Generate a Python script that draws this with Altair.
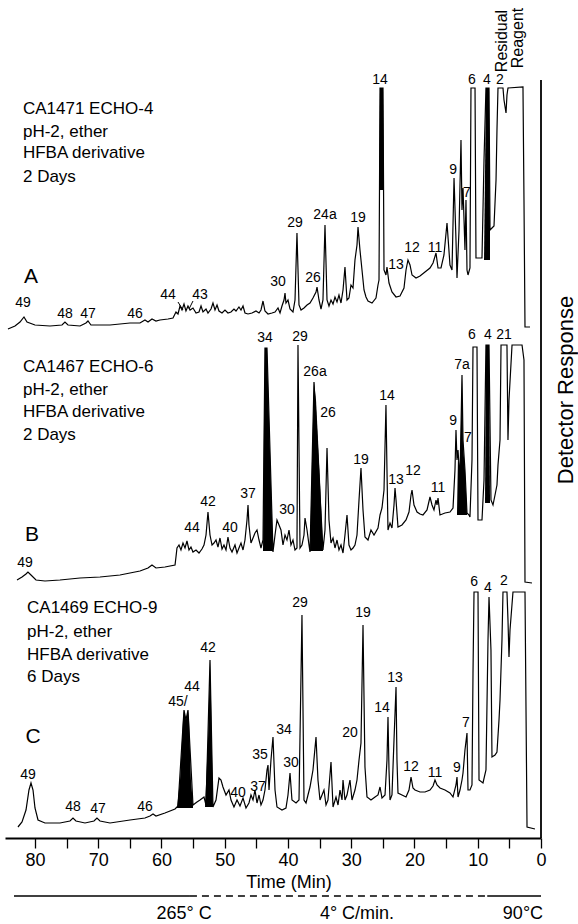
import altair as alt
import pandas as pd

FONT = "Liberation Sans"

# ---------------- chromatogram traces: (time in min, detector response) ----------------
trace_a = [
    (84.27, 509), (83.16, 512), (82.37, 516), (81.74, 521), (81.26, 516), (80.00, 513), (77.63, 512),
    (75.73, 513), (75.26, 516), (74.78, 513), (72.88, 512), (71.94, 515), (71.62, 517), (71.15, 513),
    (68.14, 513), (64.98, 515), (63.40, 515), (62.61, 518), (62.13, 516), (61.50, 519), (60.87, 517),
    (60.24, 518), (58.97, 519), (58.18, 520), (57.71, 526), (57.39, 524), (57.07, 532), (56.76, 528),
    (56.44, 534), (56.13, 527), (55.81, 532), (55.49, 528), (55.02, 530), (54.54, 525), (54.07, 526),
    (53.75, 532), (53.44, 526), (52.96, 529), (52.65, 525), (52.17, 529), (51.86, 535), (51.54, 528),
    (51.22, 533), (50.91, 527), (50.43, 525), (49.96, 528), (49.49, 525), (49.01, 526), (48.54, 529),
    (48.22, 527), (47.75, 531), (47.43, 528), (47.11, 532), (46.80, 525), (46.32, 524), (45.69, 525),
    (45.06, 527), (44.58, 525), (44.27, 528), (43.95, 537), (43.64, 527), (43.16, 524), (42.53, 525),
    (42.05, 526), (41.58, 530), (41.26, 525), (40.95, 532), (40.63, 538), (40.47, 545), (40.32, 535),
    (40.00, 538), (39.68, 529), (39.21, 526), (38.89, 538), (38.58, 605), (38.26, 533), (37.94, 528),
    (37.47, 530), (36.99, 533), (36.52, 535), (36.05, 540), (35.57, 546), (35.41, 551), (35.10, 538),
    (34.78, 529), (34.47, 538), (34.15, 613), (33.83, 538), (33.52, 532), (33.20, 538), (32.88, 534),
    (32.57, 541), (32.25, 536), (31.94, 543), (31.62, 535), (31.30, 548), (30.99, 571), (30.67, 538),
    (30.36, 540), (30.04, 553), (29.72, 550), (29.41, 578), (29.09, 593), (28.93, 611), (28.62, 588),
    (28.30, 568), (27.98, 548), (27.67, 541), (27.35, 537), (26.72, 535), (26.09, 540), (25.77, 553),
    (25.61, 558), (25.45, 750), (24.98, 750), (24.82, 568), (24.51, 563), (24.35, 571), (24.03, 555),
    (23.56, 546), (22.92, 541), (22.29, 542), (21.66, 550), (21.34, 568), (21.03, 578), (20.71, 573),
    (20.39, 563), (19.76, 560), (19.13, 562), (18.34, 566), (17.55, 570), (17.07, 575), (16.60, 585),
    (16.28, 570), (15.81, 570), (15.34, 583), (14.86, 615), (14.39, 573), (14.07, 568), (13.75, 660),
    (13.44, 598), (13.28, 560), (12.96, 608), (12.65, 698), (12.49, 628), (12.33, 650), (12.02, 588),
    (11.86, 638), (11.70, 568), (11.54, 563), (11.23, 570), (11.07, 750), (10.43, 750), (10.28, 580),
    (9.33, 580), (9.01, 678), (8.70, 750), (8.22, 750), (8.06, 608), (7.75, 610), (7.43, 612),
    (7.11, 658), (6.96, 708), (6.80, 750), (6.01, 750), (5.85, 738), (5.53, 725), (5.38, 743),
    (5.22, 750), (2.85, 751), (2.69, 638), (2.53, 511), (1.74, 511),
]

trace_b = [
    (82.84, 258), (82.05, 261), (81.42, 264), (81.11, 266), (80.63, 263), (79.84, 258), (78.42, 257),
    (76.05, 258), (72.88, 260), (69.72, 261), (66.56, 263), (63.40, 267), (62.13, 270), (61.50, 273),
    (60.87, 270), (59.45, 271), (57.86, 273), (57.71, 281), (57.55, 290), (57.23, 293), (56.92, 288),
    (56.60, 295), (56.28, 290), (55.97, 297), (55.65, 288), (55.34, 291), (55.02, 286), (54.54, 288),
    (54.07, 285), (53.60, 289), (53.28, 293), (52.96, 303), (52.65, 326), (52.33, 303), (52.01, 293),
    (51.70, 295), (51.38, 298), (51.07, 291), (50.75, 300), (50.43, 289), (50.12, 293), (49.80, 288),
    (49.49, 301), (49.17, 290), (48.85, 286), (48.38, 293), (48.06, 285), (47.75, 290), (47.43, 295),
    (47.11, 288), (46.80, 298), (46.48, 318), (46.32, 333), (46.17, 313), (45.85, 295), (45.53, 300),
    (45.22, 305), (44.90, 308), (44.58, 298), (44.27, 290), (43.95, 298), (43.64, 490), (43.32, 490),
    (42.37, 286), (42.05, 303), (41.74, 318), (41.42, 313), (41.11, 308), (40.79, 293), (40.47, 303),
    (40.16, 298), (39.84, 308), (39.53, 293), (39.21, 298), (38.89, 288), (38.58, 290), (38.42, 493),
    (38.10, 290), (37.79, 293), (37.47, 303), (37.31, 320), (36.99, 308), (36.68, 293), (36.52, 286),
    (35.89, 456), (34.47, 288), (34.15, 308), (33.83, 390), (33.52, 318), (33.20, 295), (32.88, 300),
    (32.57, 290), (32.25, 298), (31.94, 288), (31.62, 293), (31.30, 285), (30.99, 303), (30.67, 323),
    (30.36, 293), (30.04, 288), (29.72, 290), (29.41, 293), (29.09, 303), (28.77, 338), (28.46, 370),
    (28.14, 328), (27.83, 301), (27.35, 298), (26.88, 308), (26.40, 303), (25.77, 310), (25.45, 323),
    (25.14, 330), (24.82, 348), (24.51, 433), (24.35, 368), (24.19, 308), (23.87, 315), (23.56, 310),
    (23.24, 333), (23.08, 350), (22.92, 338), (22.61, 311), (21.98, 313), (21.34, 318), (20.87, 326),
    (20.55, 343), (20.39, 348), (20.08, 333), (19.60, 326), (19.13, 324), (18.66, 323), (18.02, 328),
    (17.55, 341), (17.23, 333), (16.92, 328), (16.60, 338), (16.44, 333), (16.28, 340), (15.97, 323),
    (15.18, 325), (14.39, 326), (13.91, 330), (13.60, 368), (13.44, 408), (13.28, 378), (13.12, 388),
    (12.81, 358), (12.49, 463), (12.33, 398), (12.02, 368), (11.70, 325), (11.38, 323), (11.23, 321),
    (10.91, 378), (10.75, 491), (10.12, 491), (9.96, 318), (9.33, 318), (9.01, 358), (8.70, 493),
    (8.22, 493), (7.91, 338), (7.59, 333), (7.27, 343), (6.96, 353), (6.80, 373), (6.48, 398),
    (6.32, 493), (5.38, 493), (5.22, 398), (5.06, 438), (4.58, 493), (3.00, 493), (2.69, 478),
    (2.53, 256), (1.42, 255),
]

trace_c = [
    (82.69, 11), (82.05, 16), (81.42, 28), (80.95, 48), (80.63, 55), (80.31, 48), (80.00, 30),
    (79.52, 18), (78.42, 15), (76.05, 15), (74.47, 17), (73.99, 20), (73.52, 17), (72.09, 15),
    (70.67, 17), (70.20, 20), (69.72, 17), (68.14, 15), (64.98, 18), (62.61, 20), (61.82, 22),
    (61.34, 24), (60.87, 22), (59.45, 25), (57.86, 29), (57.39, 32), (56.44, 128), (56.13, 118),
    (55.81, 128), (55.02, 33), (54.39, 36), (53.91, 38), (53.28, 41), (52.96, 33), (52.33, 178),
    (51.86, 31), (51.38, 38), (50.91, 60), (50.59, 58), (50.28, 51), (49.80, 43), (49.33, 48),
    (49.01, 38), (48.54, 31), (48.06, 38), (47.59, 32), (47.11, 40), (46.64, 30), (46.17, 35),
    (45.85, 43), (45.53, 38), (45.22, 48), (44.90, 35), (44.58, 43), (44.27, 33), (43.95, 38),
    (43.64, 48), (43.32, 68), (43.16, 73), (43.00, 48), (42.69, 78), (42.37, 101), (42.05, 48),
    (41.74, 31), (40.95, 28), (40.32, 30), (40.00, 43), (39.68, 65), (39.37, 38), (38.73, 35),
    (38.26, 38), (37.79, 223), (37.47, 38), (37.15, 35), (36.84, 43), (36.52, 51), (36.05, 68),
    (35.57, 101), (35.26, 58), (34.94, 38), (34.62, 43), (34.31, 48), (33.99, 33), (33.68, 38),
    (33.20, 76), (32.88, 31), (32.41, 41), (32.09, 33), (31.78, 48), (31.46, 38), (31.30, 58),
    (30.99, 38), (30.67, 43), (30.36, 53), (30.20, 58), (29.88, 38), (29.41, 48), (29.09, 58),
    (28.77, 78), (28.46, 95), (28.14, 213), (27.83, 71), (27.51, 41), (26.88, 38), (26.24, 41),
    (25.77, 43), (25.45, 51), (25.14, 40), (24.66, 43), (24.35, 78), (24.19, 121), (24.03, 68),
    (23.87, 38), (23.56, 43), (23.24, 98), (22.92, 151), (22.77, 78), (22.61, 45), (21.98, 43),
    (21.34, 41), (20.87, 48), (20.55, 61), (20.24, 50), (19.92, 48), (19.13, 46), (18.34, 46),
    (17.55, 48), (17.07, 52), (16.76, 58), (16.44, 53), (15.97, 50), (15.18, 48), (14.39, 45),
    (13.91, 41), (13.44, 53), (13.28, 61), (13.12, 41), (12.81, 48), (12.49, 58), (12.33, 65),
    (12.02, 88), (11.70, 105), (11.54, 48), (11.23, 48), (10.91, 53), (10.75, 165), (10.59, 246),
    (9.96, 246), (9.80, 58), (9.17, 55), (8.70, 68), (8.38, 198), (8.22, 241), (7.91, 188),
    (7.75, 81), (7.27, 83), (6.96, 86), (6.64, 118), (6.48, 138), (6.17, 198), (6.01, 246),
    (5.38, 246), (5.22, 218), (5.06, 181), (4.90, 208), (4.43, 246), (2.53, 246), (2.21, 11),
    (0.95, 9),
]

# ---------------- blackened peaks: (time, top, base) ----------------
filled_peaks = {
    "A14": [(25.61, 648, 648), (25.45, 750, 648), (24.98, 750, 648), (24.82, 648, 648)],
    "A4": [(9.01, 578, 578), (8.70, 750, 578), (8.22, 750, 578), (8.06, 608, 578)],
    "B34": [(43.95, 288, 287), (43.79, 418, 287), (43.64, 490, 287), (43.32, 490, 287),
            (42.85, 388, 287), (42.37, 287, 287)],
    "B26a": [(36.52, 287, 287), (36.20, 378, 287), (35.89, 456, 287), (35.57, 438, 287),
             (34.94, 358, 287), (34.47, 288, 287)],
    "B7a": [(13.28, 325, 323), (13.12, 383, 323), (12.81, 368, 323), (12.49, 460, 323),
            (12.33, 393, 323), (12.02, 368, 323), (11.70, 325, 323)],
    "B4": [(8.85, 338, 335), (8.70, 493, 335), (8.22, 493, 335), (8.06, 338, 335)],
    "C45_44": [(57.55, 30, 30), (57.07, 58, 30), (56.60, 118, 30), (56.44, 128, 30),
               (56.13, 118, 30), (55.81, 128, 30), (55.65, 118, 30), (55.34, 58, 30),
               (55.02, 33, 30)],
    "C42": [(53.12, 31, 31), (52.65, 98, 31), (52.33, 178, 31), (52.17, 138, 31), (51.86, 31, 31)],
}

# ---------------- peak numbers: (label, time, response) ----------------
peak_labels = [
    # trace A
    ("49", 81.90, 535), ("48", 75.26, 524), ("47", 71.62, 524), ("46", 64.19, 524),
    ("44", 58.97, 543), ("43", 53.91, 543), ("30", 41.58, 556), ("29", 38.89, 615),
    ("26", 36.05, 560), ("24a", 34.15, 623), ("19", 28.93, 620), ("14", 25.45, 758),
    ("13", 22.92, 573), ("12", 20.39, 590), ("11", 16.76, 590), ("9", 13.91, 668),
    ("7", 11.70, 645), ("6", 10.91, 758), ("4", 8.54, 758), ("2", 6.48, 758),
    # trace B
    ("49", 81.58, 275), ("44", 55.18, 310), ("42", 52.65, 336), ("40", 49.17, 310),
    ("37", 46.32, 344), ("34", 43.64, 500), ("30", 40.16, 328), ("29", 38.10, 501),
    ("26a", 35.73, 466), ("26", 33.68, 425), ("19", 28.46, 378), ("14", 24.35, 442),
    ("13", 22.92, 358), ("12", 20.24, 367), ("11", 16.28, 350), ("9", 13.91, 417),
    ("7a", 12.49, 473), ("7", 11.54, 400), ("6", 10.91, 503), ("4", 8.38, 503), ("21", 5.85, 503),
    # trace C
    ("49", 81.11, 63), ("48", 73.99, 31), ("47", 70.04, 29), ("46", 62.61, 31),
    ("45/", 57.39, 136), ("44", 55.18, 151), ("42", 52.65, 190), ("40", 47.90, 45),
    ("37", 44.74, 51), ("35", 44.43, 83), ("34", 40.63, 108), ("30", 39.53, 75),
    ("29", 38.10, 235), ("20", 30.20, 105), ("19", 28.14, 225), ("14", 25.14, 130),
    ("13", 23.08, 160), ("12", 20.55, 71), ("11", 16.76, 65), ("9", 13.28, 70),
    ("7", 11.86, 115), ("6", 10.59, 256), ("4", 8.38, 250), ("2", 5.85, 257),
]

# leader strokes from labels 44 and 43 (trace A): (t, t2, r, r2)
leaders = [(57.39, 56.60, 536, 528), (55.02, 55.65, 537, 529)]

# sample descriptions: (text, time, response)
sample_notes = [
    ("CA1471 ECHO-4", 81.90, 729), ("pH-2, ether", 81.90, 706),
    ("HFBA derivative", 81.90, 685), ("2 Days", 81.90, 661),
    ("CA1467 ECHO-6", 81.90, 471), ("pH-2, ether", 81.90, 448),
    ("HFBA derivative", 81.90, 426), ("2 Days", 81.90, 403),
    ("CA1469 ECHO-9", 81.26, 230), ("pH-2, ether", 81.26, 206),
    ("HFBA derivative", 81.26, 183), ("6 Days", 81.26, 161),
]
trace_letters = [("A", 80.63, 561), ("B", 80.47, 303), ("C", 80.31, 101)]
reagent_notes = [("Residual", 6.17, 797), ("Reagent", 3.64, 800)]
response_title = [("Detector Response", -3.95, 448)]
bottom_notes = [("Time (Min)", 39.84, -45), ("265° C", 56.44, -76), ("4° C/min.", 29.09, -76), ("90°C", 2.85, -76)]
tick_values = list(range(0, 81, 5))

# temperature programme line: (t, t2, response)
temp_solid = [(83.32, 55.5, -58), (8.5, 0.0, -58)]
temp_dashed = [(55.5, 8.5, -58)]
frame_line = [(0.0, 0, 758)]

# ---------------- build tables ----------------
rows = []
for name, pts in [("A", trace_a), ("B", trace_b), ("C", trace_c)]:
    for i, (t, r) in enumerate(pts):
        rows.append({"trace": name, "i": i, "t": t, "r": r})
traces_df = pd.DataFrame(rows)

frows = []
for name, pts in filled_peaks.items():
    for t, top, base in pts:
        frows.append({"peak": name, "t": t, "r": top, "r2": base})
fill_df = pd.DataFrame(frows)

labels_df = pd.DataFrame(peak_labels, columns=["text", "t", "r"])
leaders_df = pd.DataFrame(leaders, columns=["t", "t2", "r", "r2"])
notes_df = pd.DataFrame(sample_notes, columns=["text", "t", "r"])
letters_df = pd.DataFrame(trace_letters, columns=["text", "t", "r"])
reagent_df = pd.DataFrame(reagent_notes, columns=["text", "t", "r"])
resp_df = pd.DataFrame(response_title, columns=["text", "t", "r"])
bottom_df = pd.DataFrame(bottom_notes, columns=["text", "t", "r"])
solid_df = pd.DataFrame(temp_solid, columns=["t", "t2", "r"])
dashed_df = pd.DataFrame(temp_dashed, columns=["t", "t2", "r"])
frame_df = pd.DataFrame(frame_line, columns=["t", "r", "r2"])

x_scale = alt.Scale(domain=[0, 84.74], reverse=True, nice=False, zero=False)
y_scale = alt.Scale(domain=[0, 838], nice=False, zero=False)

X = alt.X(
    "t:Q",
    scale=x_scale,
    axis=alt.Axis(
        values=tick_values,
        labelExpr="datum.value % 10 == 0 ? datum.label : ''",
        tickSize=10, tickColor="black", tickWidth=1.3,
        domainColor="black", domainWidth=2,
        labelColor="black", labelFont=FONT, labelFontSize=18, labelPadding=3,
        labelFlush=False, labelOverlap=False, grid=False, title=None,
    ),
)
Y = alt.Y("r:Q", scale=y_scale, axis=None)

lines = alt.Chart(traces_df).mark_line(color="black", strokeWidth=1.2).encode(
    x=X, y=Y, detail="trace:N", order=alt.Order("i:Q")
)
fills = alt.Chart(fill_df).mark_area(color="black", opacity=1).encode(
    x=X, y=Y, y2="r2:Q", detail="peak:N"
)
labels = alt.Chart(labels_df).mark_text(
    font=FONT, fontSize=14, color="black", align="center", baseline="middle"
).encode(x=X, y=Y, text="text:N")
leader_lines = alt.Chart(leaders_df).mark_rule(color="black", strokeWidth=1).encode(
    x=X, x2="t2:Q", y=Y, y2="r2:Q"
)
notes = alt.Chart(notes_df).mark_text(
    font=FONT, fontSize=17, color="black", align="left", baseline="middle"
).encode(x=X, y=Y, text="text:N")
letters = alt.Chart(letters_df).mark_text(
    font=FONT, fontSize=21, color="black", align="center", baseline="middle"
).encode(x=X, y=Y, text="text:N")
reagent = alt.Chart(reagent_df).mark_text(
    font=FONT, fontSize=16, color="black", align="center", baseline="middle", angle=270
).encode(x=X, y=Y, text="text:N")
resp_title = alt.Chart(resp_df).mark_text(
    font=FONT, fontSize=22, color="black", align="center", baseline="middle", angle=270
).encode(x=X, y=Y, text="text:N")
bottoms = alt.Chart(bottom_df).mark_text(
    font=FONT, fontSize=18, color="black", align="center", baseline="middle"
).encode(x=X, y=Y, text="text:N")
solid = alt.Chart(solid_df).mark_rule(color="black", strokeWidth=1.3).encode(
    x=X, x2="t2:Q", y=Y
)
dashed = alt.Chart(dashed_df).mark_rule(color="black", strokeWidth=1.3, strokeDash=[7, 5]).encode(
    x=X, x2="t2:Q", y=Y
)
frame = alt.Chart(frame_df).mark_rule(color="black", strokeWidth=1.8).encode(
    x=X, y=Y, y2="r2:Q"
)

chart = alt.layer(
    frame, solid, dashed, fills, lines, leader_lines, labels, notes, letters,
    reagent, resp_title, bottoms
).properties(
    width=536, height=838,
    autosize=alt.AutoSizeParams(type="none"),
    padding={"left": 5, "top": 0, "right": 37, "bottom": 86},
).configure_view(strokeWidth=0)

chart.save("out.html", embed_options={"renderer": "svg", "actions": False})
